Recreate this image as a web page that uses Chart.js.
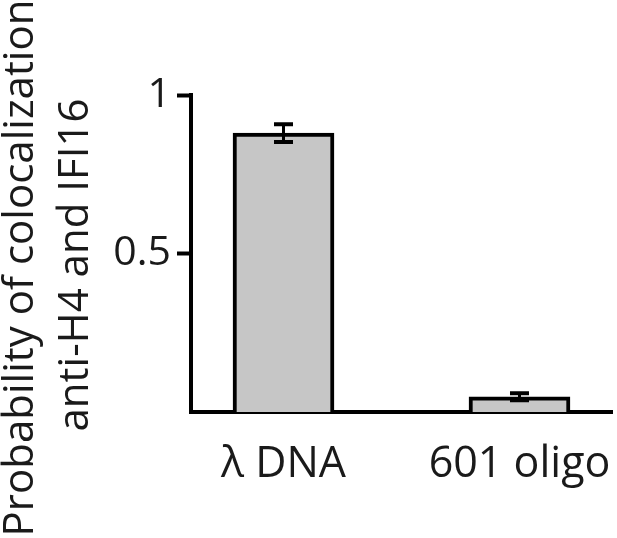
<!DOCTYPE html>
<html>
<head>
<meta charset="utf-8">
<script src="https://cdn.jsdelivr.net/npm/chart.js@4"></script>
<style>
  body { margin: 0; background: #fff; }
</style>
</head>
<body>
<canvas id="colocChart" width="617" height="538"></canvas>
<script>
// values
const categories = ['λ DNA', '601 oligo'];
const means = [0.88, 0.048];
const errors = [0.028, 0.011];
const yTicks = [0.5, 1];
const yTitleLines = ['Probability of colocalization', 'anti-H4 and IFI16'];

const textColor = '#1a1a1a';
const fontFamily = '"Open Sans", sans-serif';

// error bars: vertical line + caps
const errorBars = {
  id: 'errorBars',
  afterDatasetsDraw(chart) {
    const ctx = chart.ctx;
    const yScale = chart.scales.y;
    const meta = chart.getDatasetMeta(0);
    ctx.save();
    ctx.strokeStyle = '#000';
    meta.data.forEach((bar, i) => {
      const top = yScale.getPixelForValue(means[i] + errors[i]);
      const bottom = yScale.getPixelForValue(means[i] - errors[i]);
      ctx.lineWidth = 3;
      ctx.beginPath();
      ctx.moveTo(bar.x, top);
      ctx.lineTo(bar.x, bottom);
      ctx.stroke();
      ctx.lineWidth = 4;
      ctx.beginPath();
      ctx.moveTo(bar.x - 9.5, top);
      ctx.lineTo(bar.x + 9.5, top);
      ctx.moveTo(bar.x - 9.5, bottom);
      ctx.lineTo(bar.x + 9.5, bottom);
      ctx.stroke();
    });
    ctx.restore();
  }
};

// two-line rotated y title
const yTitle = {
  id: 'yTitle',
  afterDraw(chart) {
    const ctx = chart.ctx;
    const spots = [[42, 33, 268], [42, 88, 265]];
    ctx.save();
    ctx.fillStyle = textColor;
    ctx.textAlign = 'center';
    ctx.textBaseline = 'alphabetic';
    yTitleLines.forEach((line, i) => {
      const [size, x, y] = spots[i];
      ctx.save();
      ctx.translate(x, y);
      ctx.rotate(-Math.PI / 2);
      ctx.font = size + 'px ' + fontFamily;
      ctx.fillText(line, 0, 0);
      ctx.restore();
    });
    ctx.restore();
  }
};

const ctx = document.getElementById('colocChart').getContext('2d');
const colocChart = new Chart(ctx, {
  type: 'bar',
  data: {
    datasets: [{
      data: means.map((v, i) => ({ x: i, y: v })),
      backgroundColor: '#c6c6c6',
      borderColor: '#000',
      borderWidth: 4,
      barThickness: 101
    }]
  },
  options: {
    responsive: false,
    animation: false,
    layout: { padding: { top: 95, right: 5, left: 0, bottom: 0 } },
    plugins: {
      legend: { display: false },
      tooltip: { enabled: false }
    },
    scales: {
      x: {
        type: 'linear',
        min: -0.392,
        max: 1.392,
        offset: false,
        z: 1,
        afterBuildTicks: (scale) => {
          scale.ticks = categories.map((c, i) => ({ value: i }));
        },
        afterFit: (scale) => {
          scale.height = 126;
          scale.paddingLeft = 0;
          scale.paddingRight = 0;
        },
        ticks: {
          callback: (v) => categories[v],
          color: textColor,
          font: { family: fontFamily, size: 43 },
          padding: 27,
          maxRotation: 0
        },
        grid: { display: false, drawTicks: false, offset: false },
        border: { color: '#000', width: 4 }
      },
      y: {
        min: 0,
        max: 1,
        afterBuildTicks: (scale) => {
          scale.ticks = yTicks.map(v => ({ value: v }));
        },
        afterFit: (scale) => { scale.width = 191; },
        ticks: {
          callback: (v) => String(v),
          color: textColor,
          font: { family: fontFamily, size: 41 },
          padding: 6
        },
        grid: {
          drawOnChartArea: false,
          tickLength: 14,
          tickWidth: 4,
          tickColor: '#000'
        },
        border: { color: '#000', width: 4 }
      }
    }
  },
  plugins: [errorBars, yTitle]
});
</script>
</body>
</html>
